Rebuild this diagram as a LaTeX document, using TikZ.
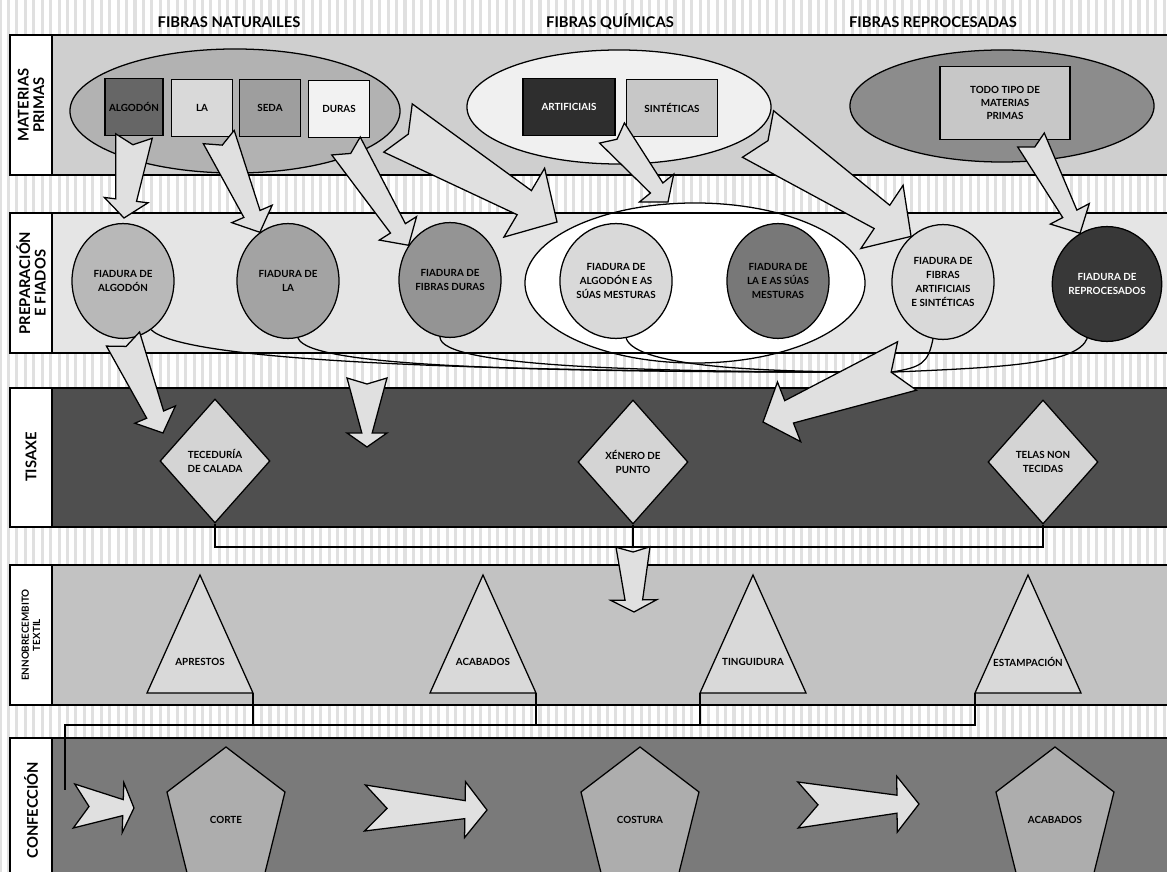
\documentclass[tikz,border=0pt]{standalone}
\usepackage{fontspec}
\setmainfont{Lato}
\usetikzlibrary{shapes.geometric,calc,positioning,patterns.meta}

\tikzset{
  fat tail/.store in=\fatTail, fat notch/.store in=\fatNotch,
  fat shaft/.store in=\fatShaft, fat head/.store in=\fatHead,
  fat len/.store in=\fatLen,
  fat tail=4.5mm, fat notch=2.2mm, fat shaft=2.4mm, fat head=5.5mm, fat len=4.5mm,
  band/.style={draw, line width=0.9pt},
  bandlab/.style={rotate=90, align=center, font=\fontsize{10.5}{11}\selectfont\bfseries},
  heading/.style={font=\fontsize{10.5}{12}\selectfont\bfseries},
  grupo/.style={ellipse, draw, line width=0.9pt, inner sep=0pt},
  materia/.style={rectangle, draw, line width=0.9pt, inner sep=0pt, align=center, minimum width=1.52cm, minimum height=1.42cm, font=\fontsize{7}{9}\selectfont\bfseries},
  fiado/.style={ellipse, draw, line width=0.9pt, inner sep=0pt, align=center, minimum width=2.55cm, minimum height=2.87cm, font=\fontsize{7}{10}\selectfont\bfseries},
  tecido/.style={diamond, draw, line width=0.9pt, inner sep=0pt, align=center, fill=black!17, minimum width=2.75cm, minimum height=3.1cm, font=\fontsize{7}{10}\selectfont\bfseries},
  acabado/.style={draw, line width=0.9pt, fill=black!15},
  peza/.style={draw, line width=0.9pt, fill=black!32},
  etiq/.style={font=\fontsize{7}{8}\selectfont\bfseries},
  conn/.style={draw, line width=0.9pt},
  fatarr/.style={draw, line width=0.9pt, fill=black!12, line join=miter}
}

% frecha grosa con cola en V: [opcions]{cola}{punta}
\newcommand{\fatarrow}[3][]{%
  \begin{scope}[#1]
    \draw[fatarr] ($(#2)!\fatTail!90:(#3)$) -- ($(#2)!\fatNotch!(#3)$)
      -- ($(#2)!\fatTail!-90:(#3)$)
      -- ($(#3)!\fatLen!(#2)!\fatShaft!90:(#2)$)
      -- ($(#3)!\fatLen!(#2)!\fatHead!90:(#2)$)
      -- (#3)
      -- ($(#3)!\fatLen!(#2)!\fatHead!-90:(#2)$)
      -- ($(#3)!\fatLen!(#2)!\fatShaft!-90:(#2)$) -- cycle;
  \end{scope}}

\begin{document}
\begin{tikzpicture}[x=0.025cm, y=-0.025cm]
\useasboundingbox (0,0) rectangle (1167,872);
\clip (0,0) rectangle (1167,872);

% fondo
\fill[white] (0,0) rectangle (1167,872);
\fill[pattern={Lines[angle=90,distance=6pt,line width=2.2pt]}, pattern color=black!12] (0,0) rectangle (1167,872);

% bandas
\foreach \ta/\ba/\co in {35/175/black!19, 213/353/black!10, 388/527/black!69, 565/705/black!24, 738/890/black!52} {
  \draw[band, fill=white] (10,\ta) rectangle (52,\ba);
  \draw[band, fill=\co] (52,\ta) rectangle (1180,\ba);
}

% cabeceiras
\node[heading] (hNat) at (229,22) {FIBRAS NATURAILES};
\node[heading] (hQui) at (610,22) {FIBRAS QUÍMICAS};
\node[heading] (hRep) at (933,22) {FIBRAS REPROCESADAS};

\node[bandlab] (lMat) at (31,105) {MATERIAS\\PRIMAS};
\node[bandlab] (lPre) at (31,283) {PREPARACIÓN\\E FIADOS};
\node[bandlab] (lTis) at (31,457) {TISAXE};
\node[bandlab, font=\fontsize{7}{8}\selectfont\bfseries] (lEnn) at (31,635) {ENNOBRECEMBITO\\TEXTIL};
\node[bandlab] (lCon) at (31,810) {CONFECCIÓN};

% materias primas
\node[grupo, fill=black!30, minimum width=8.25cm, minimum height=3.1cm] (gNat) at (235,111) {};
\node[materia, fill=black!60, minimum width=1.45cm] (bAlg) at (134,107) {ALGODÓN};
\node[materia, fill=black!15] (bLa) at (202,108) {LA};
\node[materia, fill=black!38] (bSed) at (270,108) {SEDA};
\node[materia, fill=black!5] (bDur) at (339,109) {DURAS};
\node[grupo, fill=black!6, minimum width=7.6cm, minimum height=2.85cm] (gQui) at (619,107) {};
\node[materia, fill=black!82, text=white, minimum width=2.3cm] (bArt) at (569,107) {ARTIFICIAIS};
\node[materia, fill=black!22, minimum width=2.28cm] (bSin) at (672,108) {SINTÉTICAS};
\node[grupo, fill=black!45, minimum width=7.6cm, minimum height=2.8cm] (gRep) at (1002,106) {};
\node[materia, fill=black!22, minimum width=3.25cm, minimum height=1.83cm] (bTod) at (1005,103) {TODO TIPO DE\\MATERIAS\\PRIMAS};

% preparacion e fiados
\node[grupo, fill=white, minimum width=8.5cm, minimum height=4cm] (gMes) at (695,283) {};
\draw[band] (52,213) -- (1180,213) (52,353) -- (1180,353);
\node[fiado, fill=black!28] (fAlg) at (123,281) {FIADURA DE\\ALGODÓN};
\node[fiado, fill=black!36] (fLa) at (288,281) {FIADURA DE\\LA};
\node[fiado, fill=black!42] (fDur) at (450,280) {FIADURA DE\\FIBRAS DURAS};
\node[fiado, fill=black!15] (fAlgM) at (616,281) {FIADURA DE\\ALGODÓN E AS\\SÚAS MESTURAS};
\node[fiado, fill=black!53] (fLaM) at (778,281) {FIADURA DE\\LA E AS SÚAS\\MESTURAS};
\node[fiado, fill=black!15] (fArt) at (943,282) {FIADURA DE\\FIBRAS\\ARTIFICIAIS\\E SINTÉTICAS};
\node[fiado, fill=black!78, text=white] (fRep) at (1107,284) {FIADURA DE\\REPROCESADOS};

% tisaxe
\node[tecido] (dTec) at (215,461) {TECEDURÍA\\DE CALADA};
\node[tecido] (dXen) at (633,462) {XÉNERO DE\\PUNTO};
\node[tecido] (dTel) at (1043,462) {TELAS NON\\TECIDAS};

% ennobrecemento
\foreach \n/\x/\tx in {apr/200/APRESTOS, aca/483/ACABADOS, tin/753/TINGUIDURA, est/1028/ESTAMPACIÓN} {
  \draw[acabado] (\x,575) -- (\x+53,693) coordinate (r\n) -- (\x-53,693) coordinate (l\n) -- cycle;
  \node[etiq] (\n) at (\x,662) {\tx};
}

% confeccion
\foreach \n/\x/\tx in {cor/226/CORTE, cos/640/COSTURA, acb/1055/ACABADOS} {
  \draw[peza] (\x,747) -- (\x+59,792) -- (\x+36,885) -- (\x-36,885) -- (\x-59,792) -- cycle;
  \node[etiq] (\n) at (\x,820) {\tx};
}

% conexions
\coordinate (cJoin) at (633,547);
\draw[conn] (dTec.south) |- (cJoin) -| (dTel.south);
\draw[conn] (dXen.south) -- (cJoin);
\coordinate (cFeed) at (65,725);
\coordinate (cDrop) at (65,790);
\draw[conn] (lest) |- (cFeed) -- (cDrop);
\foreach \c in {rapr, raca, ltin} \draw[conn] (\c) -- (\c |- cFeed);

\coordinate (tHub) at (907,366);
\coordinate (pXen) at (763,422);
\coordinate (hub) at ($(tHub)!4.25mm!(pXen)$);
\draw[conn] (fAlg.-60) .. controls +(30,30) and +(-450,0) .. (hub);
\draw[conn] (fLa.-80) .. controls +(10,30) and +(-350,0) .. (hub);
\draw[conn] (fDur.-100) .. controls +(0,30) and +(-250,0) .. (hub);
\draw[conn] (fAlgM.-80) .. controls +(10,30) and +(-120,0) .. (hub);
\draw[conn] (fArt.-100) .. controls +(-5,25) and +(30,-5) .. (hub);
\draw[conn] (fRep.-110) .. controls +(-10,25) and +(120,-5) .. (hub);

% frechas grosas
\coordinate (pAlg) at (124,218);
\coordinate (tDur) at (346,146);
\coordinate (tNat) at (398,128);
\coordinate (pMes) at (557,222);
\coordinate (tArt) at (612,133);
\coordinate (pArt) at (668,202);
\coordinate (tQui) at (758,134);
\coordinate (tTod) at (1031,140);
\coordinate (pTec) at (163,433);
\coordinate (tMid) at (367,378);
\coordinate (pMid) at (367,447);
\coordinate (pEnn) at (634,612);
\coordinate (tCon1) at (74,806);
\coordinate (pCon1) at (134,808);
\coordinate (tCon2) at (365,808);
\coordinate (pCon2) at (487,810);
\coordinate (tCon3) at (798,805);
\coordinate (pCon3) at (919,804);

\fatarrow[fat tail=4.6mm, fat notch=2.2mm, fat shaft=2.6mm, fat head=5.5mm, fat len=4.5mm]{bAlg.south}{pAlg}
\fatarrow[fat tail=4.2mm, fat notch=2.2mm, fat shaft=2.2mm, fat head=5.5mm, fat len=5mm]{bLa.-60}{fLa.120}
\fatarrow[fat tail=4.2mm, fat notch=2.2mm, fat shaft=2.2mm, fat head=5.5mm, fat len=5mm]{tDur}{fDur.140}
\fatarrow[fat tail=7mm, fat notch=3mm, fat shaft=3.5mm, fat head=10mm, fat len=9.5mm]{tNat}{pMes}
\fatarrow[fat tail=4mm, fat notch=2mm, fat shaft=2mm, fat head=5.5mm, fat len=4.5mm]{tArt}{pArt}
\fatarrow[fat tail=7mm, fat notch=3mm, fat shaft=3.5mm, fat head=9.5mm, fat len=8.75mm]{tQui}{fArt.125}
\fatarrow[fat tail=3.75mm, fat notch=2mm, fat shaft=2mm, fat head=5.5mm, fat len=5.5mm]{tTod}{fRep.118}
\fatarrow[fat tail=4.5mm, fat notch=2mm, fat shaft=2.3mm, fat head=5.5mm, fat len=5mm]{fAlg.south}{pTec}
\fatarrow[fat tail=5mm, fat notch=1.5mm, fat shaft=1.3mm, fat head=5mm, fat len=3.5mm]{tMid}{pMid}
\fatarrow[fat tail=6.5mm, fat notch=4.25mm, fat shaft=3mm, fat head=8mm, fat len=7mm]{tHub}{pXen}
\fatarrow[fat tail=4.25mm, fat notch=1.25mm, fat shaft=2.2mm, fat head=5.75mm, fat len=3mm]{cJoin}{pEnn}
\fatarrow[fat tail=5.5mm, fat notch=3.75mm, fat shaft=2mm, fat head=6.25mm, fat len=2.75mm]{tCon1}{pCon1}
\fatarrow[fat tail=5.75mm, fat notch=5.5mm, fat shaft=2.25mm, fat head=7mm, fat len=5.5mm]{tCon2}{pCon2}
\fatarrow[fat tail=5.75mm, fat notch=5mm, fat shaft=2.25mm, fat head=7mm, fat len=5.5mm]{tCon3}{pCon3}
\end{tikzpicture}
\end{document}
